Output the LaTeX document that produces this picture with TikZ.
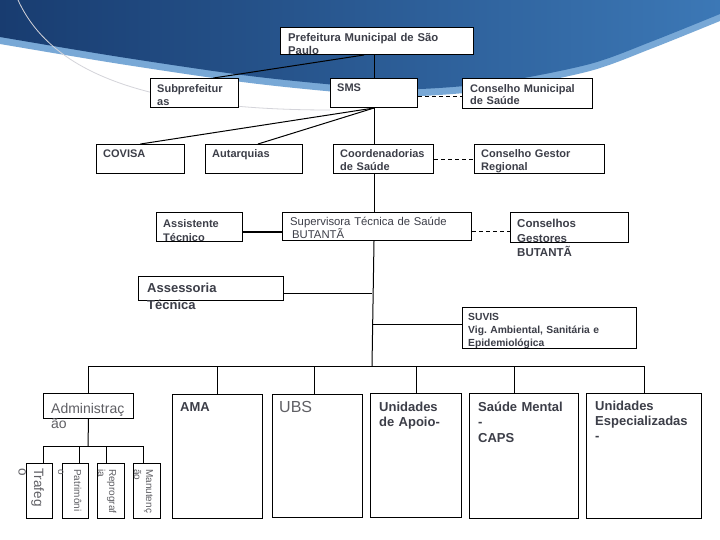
\documentclass[tikz,border=0pt]{standalone}
\usepackage{fontspec}
\setmainfont{Liberation Sans}
\usepackage{xcolor}
\usetikzlibrary{positioning, calc}

\definecolor{txtgray}{RGB}{60,62,72}
\definecolor{softgray}{RGB}{95,95,100}
\definecolor{navy}{RGB}{24,60,112}
\definecolor{skyblue}{RGB}{60,120,182}
\definecolor{stripeblue}{RGB}{120,168,214}
\definecolor{arcgray}{RGB}{212,212,218}

\begin{document}
\begin{tikzpicture}[
            x=1pt, y=-1pt,
            box/.style 2 args={
                draw=black,
                line width=1pt,
                fill=white,
                anchor=north west,
                inner sep=0pt,
                minimum width=#1,
                minimum height=#2
            },
            txt/.style={
                anchor=base west,
                inner sep=0pt,
                text width=200pt,
                align=left,
                text=txtgray,
                font=\bfseries\fontsize{11}{13}\selectfont
            },
            bigtxt/.style={
                txt,
                font=\bfseries\fontsize{13}{15.5}\selectfont
            },
            softtxt/.style={
                txt,
                text=softgray,
                font=\fontsize{14}{15}\selectfont
            },
            rottxt/.style={
                txt,
                rotate=-90,
                text width=80pt,
                text=softgray,
                font=\fontsize{10}{12}\selectfont
            },
            line/.style={
                draw,
                line width=1pt
            },
            dashline/.style={
                draw,
                line width=1pt,
                dash pattern=on 4pt off 3pt
            }
        ]
            \fill[white] (0,0) rectangle (720,540);
            \useasboundingbox (0,0) rectangle (720,540);

            % --- FUNDO ---
            \fill[stripeblue] (0,0) -- plot[smooth] coordinates {(0,44) (120,64) (250,83) (360,94) (420,96) (500,89) (590,71) (653,48) (720,21)} -- (720,0) -- cycle;
            \shade[left color=navy, right color=skyblue] (0,0) -- plot[smooth] coordinates {(0,37) (120,57) (250,76) (360,87) (420,89) (500,82) (590,64) (653,41) (720,14)} -- (720,0) -- cycle;
            \draw[arcgray, line width=0.8pt] (18,0) .. controls (50,70) and (140,110) .. (330,110);

            % --- CAIXAS ---
            \node [box={193pt}{27pt}] (pref) at (280,27) {};
            \node [txt, font=\bfseries\fontsize{11.3}{13}\selectfont] (pref_t) at ([shift={(8,15)}]pref.north west) {Prefeitura Municipal de São\\Paulo};

            \node [box={88pt}{29pt}] (subpref) at (150,78) {};
            \node [txt] (subpref_t) at ([shift={(7,15)}]subpref.north west) {Subprefeitur\\as};

            \node [box={87pt}{29pt}] (sms) at (330,78) {};
            \node [txt] (sms_t) at ([shift={(7,14)}]sms.north west) {SMS};

            \node [box={130pt}{30pt}] (cms) at (462,78) {};
            \node [txt, font=\bfseries\fontsize{11}{12}\selectfont] (cms_t) at ([shift={(8,15)}]cms.north west) {Conselho Municipal\\de Saúde};

            \node [box={88pt}{29pt}] (covisa) at (96,144) {};
            \node [txt] (covisa_t) at ([shift={(7,14)}]covisa.north west) {COVISA};

            \node [box={97pt}{29pt}] (autarq) at (205,144) {};
            \node [txt] (autarq_t) at ([shift={(7,14)}]autarq.north west) {Autarquias};

            \node [box={100pt}{29pt}] (coord) at (333,144) {};
            \node [txt, font=\bfseries\fontsize{11}{12.7}\selectfont] (coord_t) at ([shift={(7,13.5)}]coord.north west) {Coordenadorias\\de Saúde};

            \node [box={130pt}{29pt}] (cgr) at (474,144) {};
            \node [txt, font=\bfseries\fontsize{11}{12.7}\selectfont] (cgr_t) at ([shift={(7,13.5)}]cgr.north west) {Conselho Gestor\\Regional};

            \node [box={86pt}{29pt}] (assist) at (156,212) {};
            \node [txt, font=\bfseries\fontsize{11}{14}\selectfont] (assist_t) at ([shift={(7,15)}]assist.north west) {Assistente\\Técnico};

            \node [box={189pt}{28pt}] (superv) at (282,212) {};
            \node [txt, font=\fontsize{11.3}{12.5}\selectfont] (superv_t) at ([shift={(8,13.7)}]superv.north west) {Supervisora Técnica de Saúde\\\hspace{2pt}BUTANTÃ};

            \node [box={118pt}{30pt}] (cgb) at (510,212) {};
            \node [txt, font=\bfseries\fontsize{11.5}{14.5}\selectfont] (cgb_t) at ([shift={(7,15.5)}]cgb.north west) {Conselhos\\Gestores\\BUTANTÃ};

            \node [box={145pt}{24pt}] (assess) at (138,276) {};
            \node [bigtxt, font=\bfseries\fontsize{13}{17}\selectfont] (assess_t) at ([shift={(9,16)}]assess.north west) {Assessoria\\Técnica};

            \node [box={174pt}{41pt}] (suvis) at (462,307) {};
            \node [txt, font=\bfseries\fontsize{10.3}{13.3}\selectfont] (suvis_t) at ([shift={(6,13)}]suvis.north west) {SUVIS\\Vig.\ Ambiental, Sanitária e\\Epidemiológica};

            % --- UNIDADES ---
            \node [box={90pt}{25pt}] (admin) at (43,393) {};
            \node [softtxt] (admin_t) at ([shift={(8,20)}]admin.north west) {Administraç\\ão};

            \node [box={90pt}{124pt}] (ama) at (172,394) {};
            \node [bigtxt] (ama_t) at ([shift={(8,17)}]ama.north west) {AMA};

            \node [box={90pt}{123pt}] (ubs) at (272,394) {};
            \node [softtxt, font=\fontsize{16}{18}\selectfont] (ubs_t) at ([shift={(7,18)}]ubs.north west) {UBS};

            \node [box={91pt}{124pt}] (apoio) at (370,393) {};
            \node [bigtxt, font=\bfseries\fontsize{13}{15}\selectfont] (apoio_t) at ([shift={(9,18.5)}]apoio.north west) {Unidades\\de Apoio-};

            \node [box={109pt}{125pt}] (mental) at (469,393) {};
            \node [bigtxt] (mental_t) at ([shift={(9,18)}]mental.north west) {Saúde Mental\\-\\CAPS};

            \node [box={115pt}{125pt}] (espec) at (586,393) {};
            \node [bigtxt, font=\bfseries\fontsize{13}{15}\selectfont] (espec_t) at ([shift={(9,17)}]espec.north west) {Unidades\\Especializadas\\-};

            % --- SETORES DA ADMINISTRACAO ---
            \node [box={26pt}{55pt}] (traf) at (26,463) {};
            \node [rottxt, font=\fontsize{13.5}{15.5}\selectfont] (traf_t) at ([shift={(-19,5)}]traf.north east) {Trafeg\\o};

            \node [box={26pt}{55pt}] (patr) at (62,463) {};
            \node [rottxt, font=\fontsize{10}{16}\selectfont] (patr_t) at ([shift={(-15,6)}]patr.north east) {Patrimôni\\o};

            \node [box={27pt}{55pt}] (repro) at (97,463) {};
            \node [rottxt, font=\fontsize{10}{11}\selectfont] (repro_t) at ([shift={(-16,6)}]repro.north east) {Reprograf\\ia};

            \node [box={27pt}{55pt}] (manut) at (133,463) {};
            \node [rottxt] (manut_t) at ([shift={(-15,6)}]manut.north east) {Manutenç\\ão};

            \coordinate (bus) at (372,366);
            \coordinate (adm_bus) at (88,446);

            % --- LIGACOES ---
            \path [line] ([xshift=-13pt]pref.south) -- ([xshift=19pt]subpref.north);
            \path [line] (sms.north |- pref.south) -- (sms.north);
            \path [line] (sms.south) -- (covisa.north);
            \path [line] (sms.south) -- ([xshift=4pt]autarq.north);
            \path [line] (sms.south) -- (sms.south |- coord.north);
            \path [line] (sms.south |- coord.south) -- (sms.south |- superv.north);
            \path [line] (sms.south |- superv.south) -- (bus);
            \path [line] ([yshift=-5pt]assist.east) -- ([yshift=-5pt]assist.east -| superv.west);
            \path [line] ([yshift=-5pt]assess.east) -- ([yshift=-5pt]assess.east -| bus);
            \path [line] ([yshift=3.5pt]suvis.west) -- ([yshift=3.5pt]suvis.west -| bus);

            \path [dashline] ([yshift=-3.5pt]sms.east) -- ([yshift=-3.5pt]sms.east -| cms.west);
            \path [dashline] ([yshift=-1pt]coord.east) -- ([yshift=-1pt]coord.east -| cgr.west);
            \path [dashline] ([yshift=-5pt]superv.east) -- ([yshift=-5pt]superv.east -| cgb.west);

            \path [line] (admin.north) -- (admin.north |- bus) -- (espec.north |- bus) -- (espec.north);
            \path [line] (ama.north) -- (ama.north |- bus);
            \path [line] ([xshift=-3pt]ubs.north) -- ([xshift=-3pt]ubs.north |- bus);
            \path [line] (apoio.north) -- (apoio.north |- bus);
            \path [line] ([xshift=-9.5pt]mental.north) -- ([xshift=-9.5pt]mental.north |- bus);

            \path [line] (admin.south) -- (adm_bus);
            \path [line] ([xshift=4pt]traf.north) -- ([xshift=4pt]traf.north |- adm_bus) -- ([xshift=-3.5pt]manut.north |- adm_bus) -- ([xshift=-3.5pt]manut.north);
            \path [line] ([xshift=4pt]patr.north) -- ([xshift=4pt]patr.north |- adm_bus);
            \path [line] ([xshift=-4.5pt]repro.north) -- ([xshift=-4.5pt]repro.north |- adm_bus);
        \end{tikzpicture}
\end{document}
